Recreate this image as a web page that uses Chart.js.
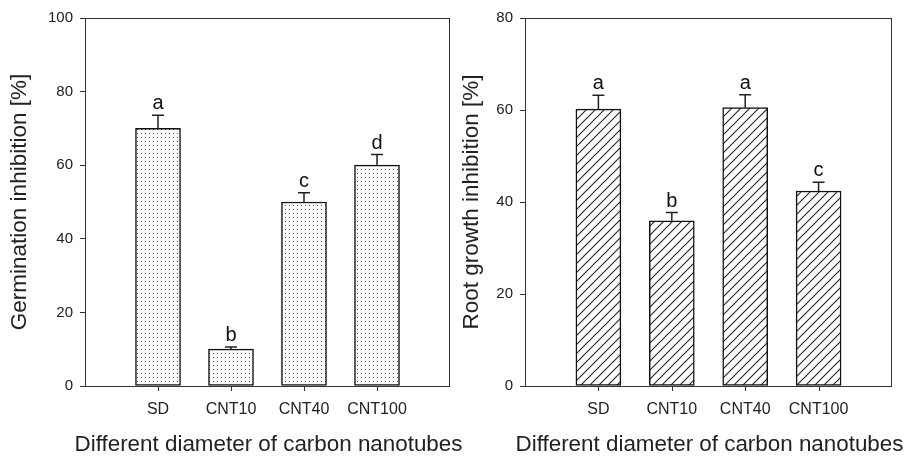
<html>
<head>
  <title>CNT inhibition</title>
  <script src="https://cdn.jsdelivr.net/npm/chart.js@4.4.0/dist/chart.umd.min.js"></script>
  <style>
    body { margin:0; background:#fff; }
    #left { position:absolute; left:0; top:0; width:472px; height:456px; }
    #right { position:absolute; left:453px; top:0; width:454px; height:456px; }
  </style>
</head>
<body>
  <div id="left"><canvas id="germ"></canvas></div>
  <div id="right"><canvas id="root"></canvas></div>

<script>
// data
var categories = ['SD', 'CNT10', 'CNT40', 'CNT100'];
var germValues = [70, 10, 50, 60];
var germErrors = [3.6, 0.6, 2.5, 2.9];
var germLetters = ['a', 'b', 'c', 'd'];
var rootValues = [60.2, 35.9, 60.5, 42.4];
var rootErrors = [3.0, 1.8, 2.8, 1.9];
var rootLetters = ['a', 'b', 'a', 'c'];
var germTicks = [0, 20, 40, 60, 80, 100];
var rootTicks = [0, 20, 40, 60, 80];
var xTitle = 'Different diameter of carbon nanotubes';

var ink = '#222';
var FONT = 'Arial, "Liberation Sans", sans-serif';

// one empty slot at each end, like the original x range
var labels = [''].concat(categories, ['']);
function pad(arr) { return [null].concat(arr, [null]); }

function stipple() {
  var c = document.createElement('canvas');
  c.width = 4; c.height = 4;
  var g = c.getContext('2d');
  g.fillStyle = '#fff'; g.fillRect(0, 0, 4, 4);
  g.fillStyle = '#555'; g.fillRect(1, 1, 1, 1);
  return g.createPattern(c, 'repeat');
}

function hatch() {
  var s = 9;
  var c = document.createElement('canvas');
  c.width = s; c.height = s;
  var g = c.getContext('2d');
  g.fillStyle = '#fff'; g.fillRect(0, 0, s, s);
  g.strokeStyle = '#222'; g.lineWidth = 1.1;
  g.beginPath();
  g.moveTo(-1, s + 1); g.lineTo(s + 1, -1);
  g.moveTo(-1, 1); g.lineTo(1, -1);
  g.moveTo(s - 1, s + 1); g.lineTo(s + 1, s - 1);
  g.stroke();
  return g.createPattern(c, 'repeat');
}

// frame, x tick marks, x title, error bars and letters
var extras = {
  id: 'extras',
  afterDatasetsDraw: function(chart) {
    var ctx = chart.ctx, a = chart.chartArea, y = chart.scales.y, xs = chart.scales.x;
    var o = chart.options.plugins.extras;
    ctx.save();
    ctx.strokeStyle = '#333';
    ctx.lineWidth = 1;
    ctx.strokeRect(a.left + 0.5, a.top + 0.5, a.right - a.left - 1, a.bottom - a.top);
    ctx.beginPath();
    for (var k = 1; k <= categories.length; k++) {
      var tx = Math.round(xs.getPixelForValue(k)) + 0.5;
      ctx.moveTo(tx, a.bottom); ctx.lineTo(tx, a.bottom + 5);
    }
    ctx.stroke();

    ctx.fillStyle = ink;
    ctx.font = '22.4px ' + FONT;
    ctx.textAlign = 'center';
    ctx.textBaseline = 'middle';
    ctx.fillText(xTitle, (a.left + a.right) / 2 + 1, 445);

    var meta = chart.getDatasetMeta(0);
    ctx.strokeStyle = ink;
    ctx.lineWidth = 1.5;
    ctx.fillStyle = '#111';
    ctx.font = '20px ' + FONT;
    ctx.textBaseline = 'alphabetic';
    for (var i = 0; i < o.values.length; i++) {
      var bar = meta.data[i + 1];
      var x = bar.x;
      var y0 = y.getPixelForValue(o.values[i]);
      var y1 = y.getPixelForValue(o.values[i] + o.errors[i]);
      ctx.beginPath();
      ctx.moveTo(x, y0); ctx.lineTo(x, y1);
      ctx.moveTo(x - 6, y1); ctx.lineTo(x + 6, y1);
      ctx.stroke();
      ctx.fillText(o.letters[i], x, y1 - 6);
    }
    ctx.restore();
  }
};

function makeChart(id, values, errors, letters, ticks, ymax, title, fill, yWidth, padRight, titlePad) {
  return new Chart(document.getElementById(id), {
    type: 'bar',
    data: {
      labels: labels,
      datasets: [{
        data: pad(values),
        backgroundColor: fill,
        borderColor: '#111',
        borderWidth: 1.5,
        borderSkipped: false,
        barThickness: 45
      }]
    },
    options: {
      responsive: true,
      maintainAspectRatio: false,
      animation: false,
      layout: { padding: { top: 18, right: padRight, bottom: 0, left: 0 } },
      plugins: {
        legend: { display: false },
        tooltip: { enabled: false },
        extras: { values: values, errors: errors, letters: letters }
      },
      scales: {
        x: {
          offset: false,
          border: { display: false },
          grid: { offset: false, drawOnChartArea: false, tickLength: 5, tickColor: 'rgba(0,0,0,0)' },
          ticks: { color: ink, font: { family: FONT, size: 16 }, padding: 9, autoSkip: false, maxRotation: 0 },
          afterFit: function(s) { s.height = 70; }
        },
        y: {
          min: 0, max: ymax,
          border: { display: false },
          grid: { drawOnChartArea: false, tickLength: 5, tickColor: '#333' },
          afterBuildTicks: function(s) { s.ticks = ticks.map(function(v) { return { value: v }; }); },
          ticks: { color: ink, font: { family: FONT, size: 15 }, padding: 7 },
          title: { display: true, text: title, color: ink, font: { family: FONT, size: 22.5 }, padding: { top: titlePad, bottom: 0 } },
          afterFit: function(s) { s.width = yWidth; }
        }
      }
    },
    plugins: [extras]
  });
}

makeChart('germ', germValues, germErrors, germLetters, germTicks, 100, 'Germination inhibition [%]', stipple(), 85, 22, 6);
makeChart('root', rootValues, rootErrors, rootLetters, rootTicks, 80, 'Root growth inhibition [%]', hatch(), 72, 15, 5);
</script>
</body>
</html>
